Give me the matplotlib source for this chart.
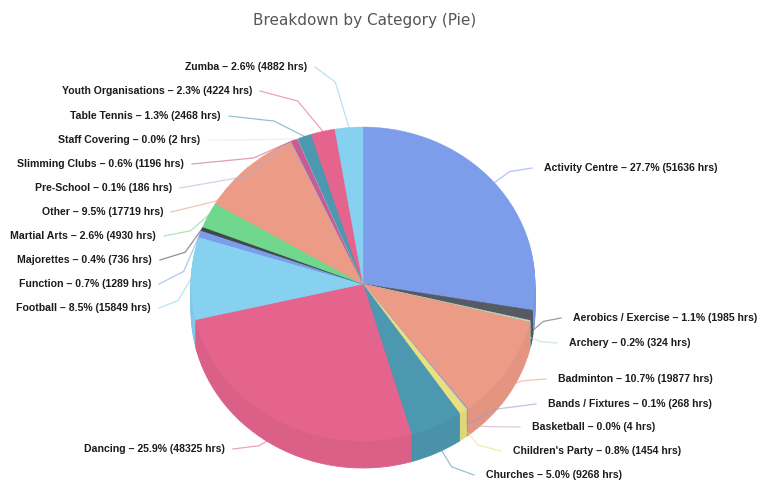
import matplotlib
matplotlib.use("Agg")
import matplotlib.pyplot as plt
import numpy as np
from matplotlib.colors import to_rgb
from matplotlib.transforms import Affine2D

categories = ["Activity Centre", "Aerobics / Exercise", "Archery", "Badminton",
              "Bands / Fixtures", "Basketball", "Children's Party", "Churches",
              "Dancing", "Football", "Function", "Majorettes", "Martial Arts",
              "Other", "Pre-School", "Slimming Clubs", "Staff Covering",
              "Table Tennis", "Youth Organisations", "Zumba"]
hours = [51636, 1985, 324, 19877, 268, 4, 1454, 9268, 48325, 15849, 1289, 736,
         4930, 17719, 186, 1196, 2, 2468, 4224, 4882]
colors = ["#7d9dea", "#565b63", "#b8dcc0", "#ec9b86", "#8f9fd0", "#c9a3c4",
          "#e9e07f", "#4c98b0", "#e4648d", "#86d0f0", "#7d9dea", "#3d4a4a",
          "#70d78d", "#ec9b86", "#a9b7dc", "#c95b93", "#e8e8c8", "#4c98b0",
          "#e4648d", "#86d0f0"]

# label anchors in image pixels, (x, y, side)
label_pos = [(544, 168, "l"), (573, 318, "l"), (569, 343, "l"), (558, 379, "l"),
             (548, 404, "l"), (532, 427, "l"), (513, 451, "l"), (486, 475, "l"),
             (225, 449, "r"), (151, 308, "r"), (151, 284, "r"), (152, 260, "r"),
             (156, 236, "r"), (163, 212, "r"), (172, 188, "r"), (184, 164, "r"),
             (200, 140, "r"), (221, 116, "r"), (252, 91, "r"), (307, 67, "r")]

W, H = 757, 483
cx, cy, rx, ry, depth = 363, 284, 172, 157, 27


def darker(c, f):
    return tuple(v * f for v in to_rgb(c))


fig = plt.figure(figsize=(W / 100, H / 100), dpi=100, facecolor="white")
ax = fig.add_axes([0, 0, 1, 1])

# side of the pie: same slices stacked downwards, a bit darker
for d in np.linspace(depth / ry, 0, 15)[:-1]:
    ax.pie(hours, colors=[darker(c, 0.96) for c in colors], startangle=90,
           counterclock=False, center=(0, -d), frame=True,
           wedgeprops=dict(linewidth=0.6))
    for w in ax.patches[-len(hours):]:
        w.set_edgecolor(w.get_facecolor())
ax.pie(hours, colors=colors, startangle=90, counterclock=False, frame=True,
       wedgeprops=dict(linewidth=0.3))
for w in ax.patches[-len(hours):]:
    w.set_edgecolor(w.get_facecolor())

ax.set_aspect("auto")
ax.set_xlim(-cx / rx, (W - cx) / rx)
ax.set_ylim(-(H - cy) / ry, cy / ry)
ax.axis("off")

# image pixels, y pointing down
px = Affine2D().scale(1, -1).translate(0, H)

total = sum(hours)
start = 0
for name, val, col, (lx, ly, side) in zip(categories, hours, colors, label_pos):
    mid = (start + val / 2) / total * 2 * np.pi
    start += val
    ex = cx + rx * np.sin(mid)
    ey = cy - ry * np.cos(mid)
    if np.cos(mid) < 0:
        ey += depth * 0.6
    gap = 12 if side == "l" else 8
    tx = lx - gap if side == "l" else lx + gap
    ax.plot([ex, (ex + tx) / 2 + (ex - tx) * 0.1, tx], [ey, ly + (ey - ly) * 0.25, ly],
            color=col, lw=0.9, alpha=0.6, transform=px, clip_on=False, zorder=5)
    ax.text(lx, ly, f"{name} \u2013 {val / total * 100:.1f}% ({val} hrs)",
            transform=px, fontsize=7.6, fontweight="bold", color="#1c1c1c",
            family="Liberation Sans", va="center",
            ha="left" if side == "l" else "right", zorder=6)

ax.text(365, 20, "Breakdown by Category (Pie)", transform=px, fontsize=11,
        color="#555555", ha="center", va="center")

fig.savefig("out.png", dpi=100)
